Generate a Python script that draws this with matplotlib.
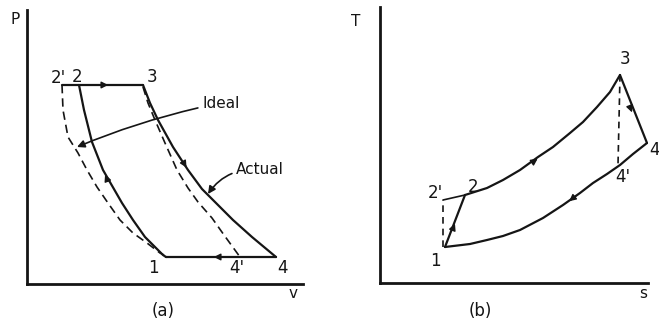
import numpy as np
from matplotlib import pyplot as plt

# (a) diagramme P-v : valeurs (unités arbitraires)
v_21 = [52, 57, 65, 76, 95, 106, 118, 136, 139]
P_21 = [199, 174, 142, 114, 81, 64, 47, 29, 27]
v_2p1 = [35, 36, 41, 51, 60, 70, 81, 93, 106, 120, 133, 137]
P_2p1 = [199, 174, 147, 131, 114, 97, 81, 64, 51, 41, 31, 29]
v_34 = [116, 123, 131, 146, 161, 175, 190, 206, 225, 249]
P_34 = [199, 181, 164, 137, 114, 95, 80, 64, 47, 27]
v_34p = [116, 121, 128, 138, 150, 161, 171, 185, 197, 213]
P_34p = [197, 181, 164, 141, 114, 96, 82, 66, 49, 27]
v_haut = [35, 116]
P_haut = [199, 199]
v_bas = [139, 249]
P_bas = [27, 27]

# points et etiquettes P-v
pv_labels = ["2'", "2", "3", "1", "4'", "4"]
pv_lab_v = [31, 50, 125, 126, 210, 256]
pv_lab_P = [206, 207, 207, 16, 16, 16]

# (b) diagramme T-s
s_23 = [85, 107, 123, 140, 158, 173, 190, 203, 217, 230, 240]
T_23 = [88, 95, 103, 113, 126, 136, 150, 161, 176, 191, 208]
s_14 = [65, 90, 107, 123, 140, 163, 183, 200, 213, 227, 240, 253, 267]
T_14 = [36, 39, 43, 47, 53, 65, 78, 90, 100, 109, 118, 129, 140]
s_12 = [65, 85]
T_12 = [36, 88]
s_2p2 = [63, 85]
T_2p2 = [83, 88]
s_12p = [63, 63]
T_12p = [36, 83]
s_34 = [240, 267]
T_34 = [208, 140]
s_34p = [240, 238]
T_34p = [208, 118]

ts_labels = ["3", "4", "4'", "2", "2'", "1"]
ts_lab_s = [245, 274, 243, 93, 55, 55]
ts_lab_T = [224, 133, 106, 96, 90, 22]

# fleches (debut, fin) sur les courbes
pv_fleches = [((70, 199), (84, 199)), ((198, 27), (184, 27)),
              ((82, 100), (77, 112)), ((155, 124), (161, 114))]
ts_fleches = [((150, 119), (160, 126)), ((198, 89), (187, 80)),
              ((72, 52), (76, 62)), ((250, 176), (253, 168))]

noir = '#151515'

fig = plt.figure(figsize=(6.59, 3.24), dpi=100)
ax1 = fig.add_axes([27/659, 40/324, 276/659, 274/324])
ax2 = fig.add_axes([380/659, 41/324, 268/659, 276/324])

for ax in (ax1, ax2):
    ax.spines['top'].set_visible(False)
    ax.spines['right'].set_visible(False)
    ax.spines['left'].set_linewidth(2)
    ax.spines['bottom'].set_linewidth(2)
    ax.spines['left'].set_color(noir)
    ax.spines['bottom'].set_color(noir)
    ax.set_xticks([])
    ax.set_yticks([])
    ax.patch.set_alpha(0)

ax1.set_xlim(0, 276)
ax1.set_ylim(0, 274)
ax2.set_xlim(0, 268)
ax2.set_ylim(0, 276)

trait = dict(color=noir, solid_joinstyle='round', solid_capstyle='round')
tiret = dict(color=noir, lw=1.2, dash_joinstyle='round')

# courbes P-v
ax1.plot(v_21, P_21, lw=1.6, **trait)
ax1.plot(v_34, P_34, lw=1.6, **trait)
ax1.plot(v_haut, P_haut, lw=1.6, **trait)
ax1.plot(v_bas, P_bas, lw=1.6, **trait)
ax1.plot(v_2p1, P_2p1, ls=(0, (5, 3)), **tiret)
ax1.plot(v_34p, P_34p, ls=(0, (5, 3)), **tiret)

for lab, x, y in zip(pv_labels, pv_lab_v, pv_lab_P):
    ax1.text(x, y, lab, fontsize=12, ha='center', va='center', color=noir)

ax1.annotate('Ideal', xy=(50, 137), xytext=(175, 181), fontsize=11, color=noir,
             va='center', ha='left',
             arrowprops=dict(arrowstyle='-|>', color=noir, lw=1.2,
                             connectionstyle='arc3,rad=0.05', shrinkA=1, shrinkB=0))
ax1.annotate('Actual', xy=(181, 90), xytext=(209, 114), fontsize=11, color=noir,
             va='center', ha='left',
             arrowprops=dict(arrowstyle='-|>', color=noir, lw=1.2,
                             connectionstyle='arc3,rad=0.3', shrinkA=1, shrinkB=0))

for a, b in pv_fleches:
    ax1.annotate('', xy=b, xytext=a,
                 arrowprops=dict(arrowstyle='-|>', color=noir, lw=1, mutation_scale=10))

# courbes T-s
ax2.plot(s_23, T_23, lw=1.6, **trait)
ax2.plot(s_14, T_14, lw=1.6, **trait)
ax2.plot(s_12, T_12, lw=1.6, **trait)
ax2.plot(s_2p2, T_2p2, lw=1.2, **trait)
ax2.plot(s_34, T_34, lw=1.6, **trait)
ax2.plot(s_12p, T_12p, ls=(0, (4, 3)), **tiret)
ax2.plot(s_34p, T_34p, ls=(0, (4, 3)), **tiret)

for lab, x, y in zip(ts_labels, ts_lab_s, ts_lab_T):
    ax2.text(x, y, lab, fontsize=12, ha='center', va='center', color=noir)

for a, b in ts_fleches:
    ax2.annotate('', xy=b, xytext=a,
                 arrowprops=dict(arrowstyle='-|>', color=noir, lw=1, mutation_scale=10))

# noms des axes et sous-titres
fig.text(15/659, 1 - 20/324, 'P', fontsize=11, ha='center', va='center', color=noir)
fig.text(293/659, 1 - 293/324, 'v', fontsize=11, ha='center', va='center', color=noir)
fig.text(163/659, 1 - 311/324, '(a)', fontsize=12, ha='center', va='center', color=noir)
fig.text(356/659, 1 - 22/324, 'T', fontsize=11, ha='center', va='center', color=noir)
fig.text(643/659, 1 - 293/324, 's', fontsize=11, ha='center', va='center', color=noir)
fig.text(480/659, 1 - 311/324, '(b)', fontsize=12, ha='center', va='center', color=noir)

plt.savefig('out.png', dpi=100)
